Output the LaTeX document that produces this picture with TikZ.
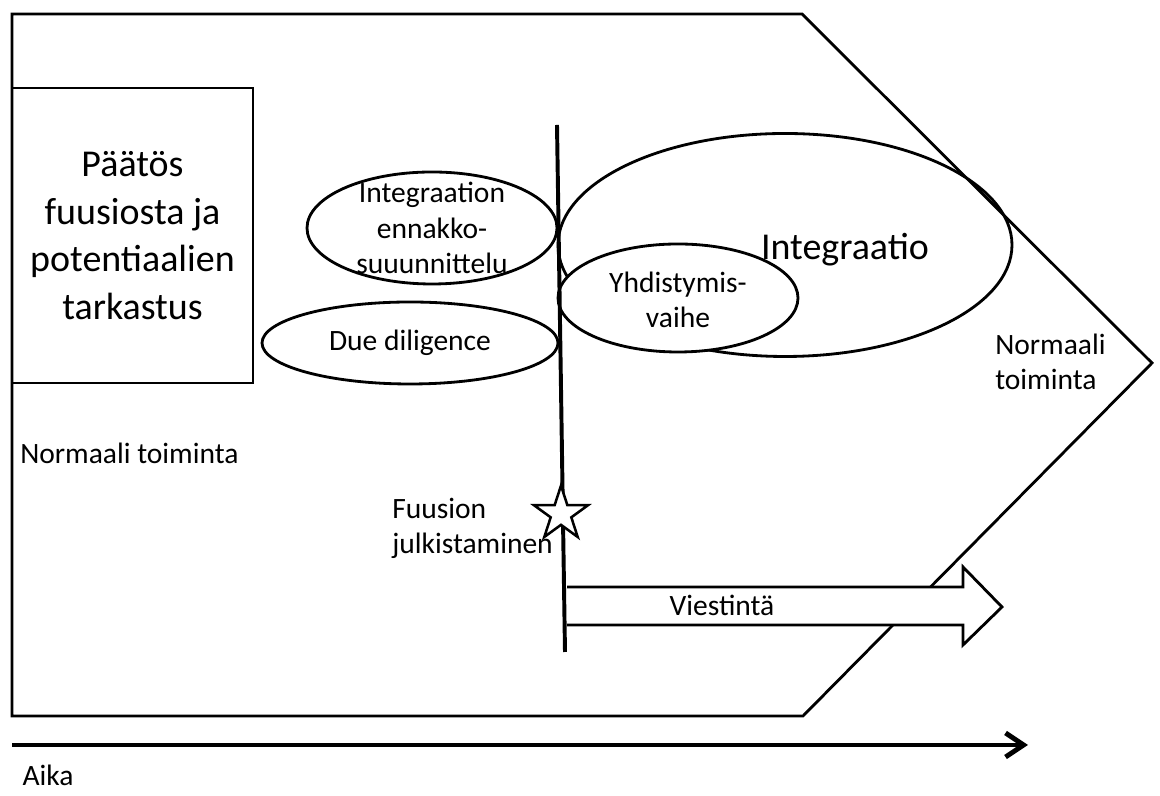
\documentclass[tikz,border=0pt]{standalone}
\usepackage{fontspec}
\setmainfont{Carlito}
\usepackage{tikz}
\usetikzlibrary{shapes.geometric}
\usetikzlibrary{arrows.meta}
\def\normaltext{\fontsize{21}{25}\selectfont}
\def\bigtext{\fontsize{27}{34}\selectfont}

\begin{document}
\begin{tikzpicture}[
	outline/.style={line width=2pt},
	phase/.style={draw,ellipse,line width=2pt,inner sep=0pt},
	txt/.style={inner sep=0pt,align=center,font=\normaltext}]
	\useasboundingbox (0,0) rectangle (29,19.9);
	% runko
	\draw[outline] (0.3,19.55)--(20.05,19.55)--(28.8,10.825)--(20.075,2)--(0.3,2)--cycle;
	\node[draw,outline,minimum width=6.025cm,minimum height=7.375cm,align=center,font=\bigtext] (paatos) at (3.3125,14.0125) {P\"a\"at\"os\\fuusiosta ja\\potentiaalien\\tarkastus};
	% vaiheet
	\node[phase,minimum width=6.25cm,minimum height=2.8cm] (ennakko) at (10.8,14.2) {};
	\node[txt] (ennakkotxt) at (ennakko.center) {Integraation\\ennakko-\\suuunnittelu};
	\node[phase,minimum width=7.4cm,minimum height=2.05cm] (due) at (10.25,11.325) {};
	\node[txt] (duetxt) at (due.center) {Due diligence};
	\node[phase,minimum width=11.35cm,minimum height=5.575cm] (integ) at (19.625,13.775) {};
	\node[txt,font=\bigtext] (integtxt) at (21.125,13.65) {Integraatio};
	\node[phase,fill=white,minimum width=6cm,minimum height=2.7cm] (yhd) at (16.95,12.45) {};
	\node[txt] (yhdtxt) at (16.95,12.4) {Yhdistymis-\\vaihe};
	% viestinta
	\draw[outline,fill=white] (14.175,5.225)--(24.075,5.225)--(24.075,5.725)--(25.05,4.725)--(24.075,3.775)--(24.075,4.275)--(14.175,4.275);
	\node[txt] (viest) at (18.05,4.775) {Viestint\"a};
	% julkistaminen
	\coordinate (lineTop) at (13.925,16.775);
	\coordinate (lineBot) at (14.125,3.6);
	\draw[line width=2.8pt] (lineTop)--(lineBot);
	\node[star,star points=5,star point ratio=2.618,draw,fill=white,line width=1.8pt,minimum size=1.42cm,inner sep=0pt] (julk) at (14.025,7.05) {};
	\node[txt,anchor=west,align=left] (fuusio) at (9.8,6.7) {Fuusion\\julkistaminen};
	\node[txt,anchor=west] (normL) at (0.5,8.575) {Normaali toiminta};
	\node[txt,anchor=west,align=left] (normR) at (24.875,10.86) {Normaali\\toiminta};
	% aika
	\coordinate (timeStart) at (0.3,1.275);
	\coordinate (timeEnd) at (25.7,1.275);
	\draw[line width=3.5pt,-{Straight Barb[length=0.45cm,width=0.6cm]}] (timeStart)--(timeEnd);
	\node[txt,anchor=base] (aika) at (1.2,0.26) {Aika};
\end{tikzpicture}
\end{document}
